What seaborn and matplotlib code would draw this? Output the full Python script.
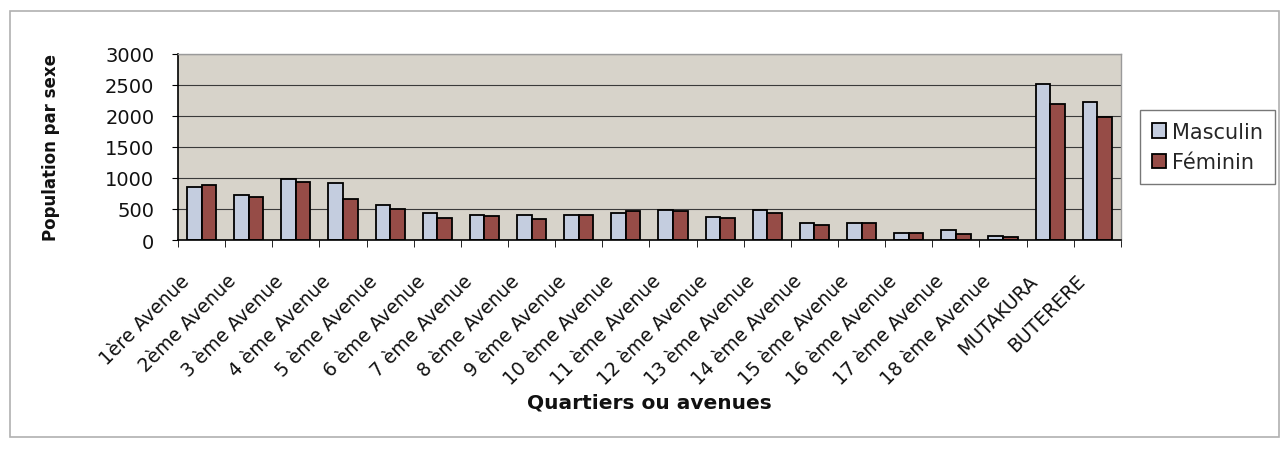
import matplotlib
matplotlib.use('Agg')
import matplotlib.pyplot as plt
import matplotlib.transforms as mtransforms
import pandas as pd
import seaborn as sns
from matplotlib.patches import Rectangle

# Data
quartiers = ['1ère Avenue', '2ème Avenue', '3 ème Avenue', '4 ème Avenue', '5 ème Avenue',
             '6 ème Avenue', '7 ème Avenue', '8 ème Avenue', '9 ème Avenue', '10 ème Avenue',
             '11 ème Avenue', '12 ème Avenue', '13 ème Avenue', '14 ème Avenue', '15 ème Avenue',
             '16 ème Avenue', '17 ème Avenue', '18 ème Avenue', 'MUTAKURA', 'BUTERERE']
masculin = [860, 730, 990, 920, 570, 430, 410, 400, 400, 430,
            480, 370, 490, 280, 280, 110, 160, 60, 2520, 2230]
feminin = [890, 700, 940, 660, 500, 350, 380, 340, 410, 470,
           470, 350, 440, 250, 280, 110, 90, 50, 2200, 1980]

df = pd.DataFrame({'quartier': quartiers * 2,
                   'pop': masculin + feminin,
                   'sexe': ['Masculin'] * len(quartiers) + ['Féminin'] * len(quartiers)})

sns.set_style('white')
plt.rcParams['font.family'] = ['DejaVu Sans']

fig = plt.figure(figsize=(12.84, 4.64), dpi=100)
ax = fig.add_axes([0.1386, 0.4806, 0.7344, 0.4009])
ax.set_facecolor('#d7d3ca')

sns.barplot(data=df, x='quartier', y='pop', hue='sexe', order=quartiers,
            palette=['#bfcbe4', '#a3403a'], edgecolor='black', linewidth=1.3,
            width=0.62, gap=0, ax=ax)

ax.set_ylim(0, 3000)
ax.set_xlim(-0.5, len(quartiers) - 0.5)
ax.set_yticks(range(0, 3001, 500))
ax.yaxis.grid(True, color='#3a3a3a', linewidth=0.8)
ax.set_axisbelow(True)
ax.tick_params(axis='y', labelsize=14, length=4, pad=13, direction='out', left=True,
               color='black', labelcolor='#111111')

# category ticks between bars, like the original
ax.set_xticks([i - 0.5 for i in range(len(quartiers) + 1)], minor=True)
ax.tick_params(axis='x', which='major', length=0, labelsize=13.5, pad=22, labelcolor='#111111')
ax.tick_params(axis='x', which='minor', length=5, direction='out', bottom=True, color='black')
shift = mtransforms.ScaledTranslation(-0.22, 0, fig.dpi_scale_trans)
for lab in ax.get_xticklabels():
    lab.set_rotation(45)
    lab.set_ha('right')
    lab.set_va('top')
    lab.set_rotation_mode('anchor')
    lab.set_transform(lab.get_transform() + shift)

for s in ['left', 'bottom']:
    ax.spines[s].set_color('black')
    ax.spines[s].set_linewidth(1.2)
for s in ['top', 'right']:
    ax.spines[s].set_color('#9a9a9a')
    ax.spines[s].set_linewidth(1)

ax.set_xlabel('Quartiers ou avenues', fontsize=14.5, fontweight='bold', color='#111111')
ax.set_ylabel('Population par sexe', fontsize=12, fontweight='bold', color='#111111')
ax.xaxis.set_label_coords(0.5, -0.82)
ax.yaxis.set_label_coords(-0.125, 0.5)

leg = ax.legend(loc='center left', bbox_to_anchor=(0.888, 0.681), bbox_transform=fig.transFigure,
                fontsize=15, frameon=True, fancybox=False, edgecolor='#555555',
                handlelength=0.7, handleheight=0.7, handletextpad=0.3, borderpad=0.55,
                borderaxespad=0, labelspacing=0.5, title=None)
leg.get_frame().set_linewidth(1)

# outer chart frame
fig.patches.append(Rectangle((0.008, 0.055), 0.988, 0.92, transform=fig.transFigure,
                             fill=False, edgecolor='#b0b0b0', linewidth=1.2))

fig.savefig('out.png', dpi=100)
